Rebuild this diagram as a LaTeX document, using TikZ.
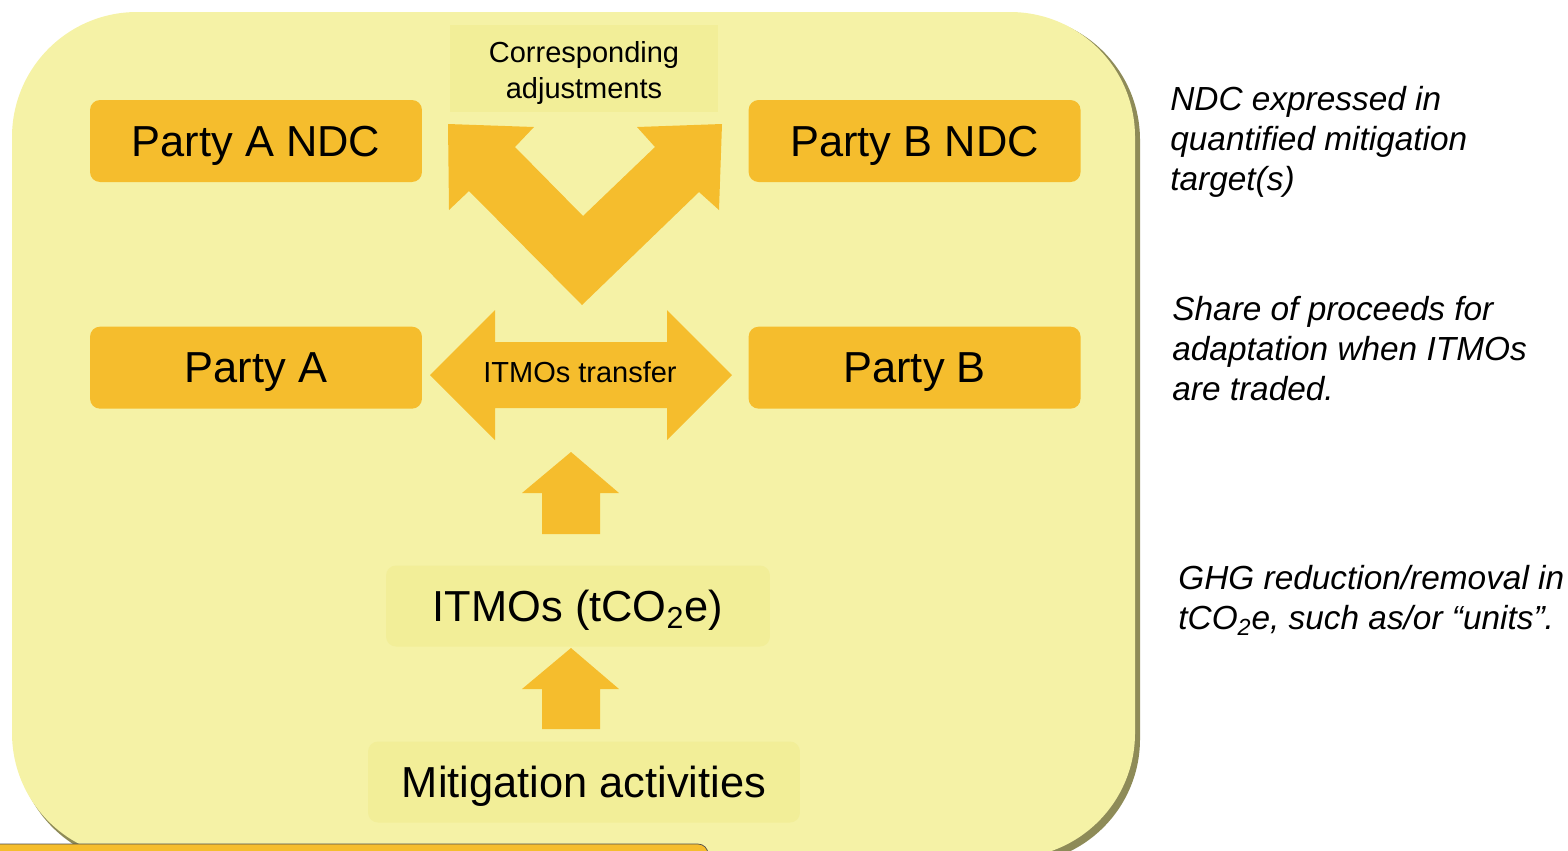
\documentclass[tikz,border=0pt]{standalone}
\usepackage{fontspec}
\setmainfont{Liberation Sans}
\usepackage{xcolor}
\usetikzlibrary{positioning}

\definecolor{bgyellow}{HTML}{F5F2A6}
\definecolor{bgshade}{HTML}{8E8B58}
\definecolor{boxorange}{HTML}{F5BD2D}
\definecolor{paleyellow}{HTML}{F2EE98}

\begin{document}
\begin{tikzpicture}[
    x=0.02cm, y=-0.02cm,
    party/.style={rectangle, fill=boxorange, rounded corners=0.2cm, minimum width=6.64cm, minimum height=1.64cm, inner sep=0pt, text depth=0pt, font=\fontsize{24.7}{28}\selectfont},
    pale/.style={rectangle, fill=paleyellow, rounded corners=0.2cm, minimum height=1.62cm, inner sep=0pt, text depth=0pt, font=\fontsize{24.7}{28}\selectfont},
    blockarrow/.style={fill=boxorange},
    note/.style={anchor=north west, inner sep=0pt, align=left, font=\fontsize{19}{22.8}\selectfont\itshape}
]
\useasboundingbox (0,0) rectangle (1568,850);

% background panel
\fill[bgshade, rounded corners=2.5cm] (16,15) rectangle (1140,864);
\fill[bgyellow, rounded corners=2.5cm] (12,12) rectangle (1135,858);
\filldraw[fill=boxorange, draw=black!70, rounded corners=0.2cm] (-10,844) rectangle (708,880);

\node[party] (ndcA) at (256,141) {Party A NDC};
\node[party, right=6.52cm of ndcA] (ndcB) {Party B NDC};
\node[party, below=2.88cm of ndcA] (partyA) {Party A};
\node[party, below=2.88cm of ndcB] (partyB) {Party B};
\fill[paleyellow] (450,25) rectangle (718,112);
\node[align=center, font=\fontsize{16.5}{20.4}\selectfont] (adjust) at (584,73) {Corresponding\\adjustments};
\node[pale, minimum width=7.68cm] (itmos) at (578,606) {ITMOs (tCO\textsubscript{2}e)};
\node[pale, minimum width=8.64cm] (mitig) at (584,782) {Mitigation activities};

% block arrows
\fill[blockarrow] (448,124) -- (534,127) -- (515,147) -- (583,216) -- (655,147) -- (637,127)
    -- (722,124) -- (719,210) -- (699,192) -- (582,305) -- (469,191) -- (449,210) -- cycle;
\fill[blockarrow] (430,375) -- (495,310) -- (495,342) -- (667,342) -- (667,310) -- (732,375)
    -- (667,440) -- (667,408) -- (495,408) -- (495,440) -- cycle;
\node[font=\fontsize{16.5}{20}\selectfont] (transfer) at (580,372) {ITMOs transfer};
\fill[blockarrow] (571,452) -- (619,493) -- (600,493) -- (600,534) -- (542,534) -- (542,493) -- (522,493) -- cycle;
\fill[blockarrow] (571,648) -- (619,689) -- (600,689) -- (600,729) -- (542,729) -- (542,689) -- (522,689) -- cycle;

\node[note] (noteNDC) at (1170,86) {NDC expressed in\\quantified mitigation\\target(s)};
\node[note] (noteShare) at (1172,296) {Share of proceeds for\\adaptation when ITMOs\\are traded.};
\node[note] (noteGHG) at (1178,565) {GHG reduction/removal in\\tCO\textsubscript{2}e, such as/or “units”.};
\end{tikzpicture}
\end{document}
